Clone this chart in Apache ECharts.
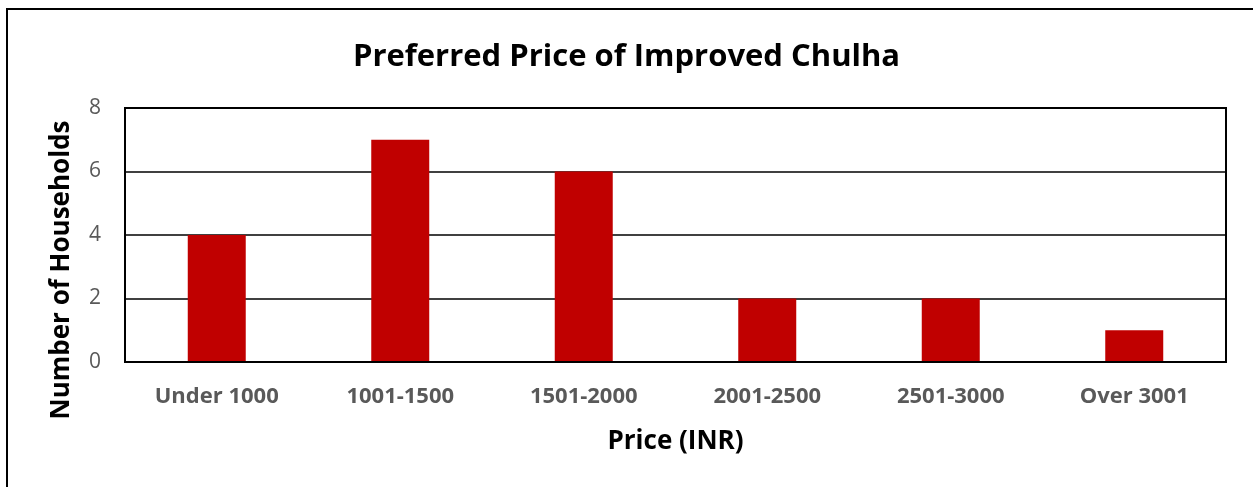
<!DOCTYPE html>
<html><head><meta charset="utf-8">
<script src="https://cdn.jsdelivr.net/npm/echarts@6/dist/echarts.min.js"></script>
<style>html,body{margin:0;padding:0;background:#fff}#c{width:1253px;height:487px}</style>
</head><body><div id="c"></div>
<script>
const categories = ["Under 1000", "1001-1500", "1501-2000", "2001-2500", "2501-3000", "Over 3001"];
const households = [4, 7, 6, 2, 2, 1];
const yTicks = [0, 2, 4, 6, 8];
const yTitle = 'Number of Households';

const chart = echarts.init(document.getElementById('c'), null, {renderer: 'canvas'});
const FONT = 'Open Sans';
chart.setOption({
  animation: false,
  backgroundColor: '#fff',
  title: {
    text: 'Preferred Price of Improved Chulha',
    left: 'center', top: 37,
    textStyle: {fontFamily: FONT, fontWeight: 'bold', fontSize: 31, color: '#000'}
  },
  graphic: [{
    type: 'rect', shape: {x: 7, y: 9, width: 1260, height: 500},
    style: {fill: 'none', stroke: '#000', lineWidth: 2}, z: 100
  }, {
    type: 'rect', shape: {x: 125, y: 108, width: 1101, height: 254},
    style: {fill: 'none', stroke: '#000', lineWidth: 2}, z: 100
  }, {
    type: 'text', x: 62, y: 270, rotation: Math.PI / 2,
    style: {text: yTitle, fontFamily: FONT, fontWeight: 'bold', fontSize: 26, fill: '#000',
            align: 'center', verticalAlign: 'middle'}
  }],
  grid: {left: 125, right: 27, top: 108, bottom: 125, containLabel: false},
  xAxis: {
    type: 'category', data: categories,
    name: 'Price (INR)', nameLocation: 'middle', nameGap: 67,
    nameTextStyle: {fontFamily: FONT, fontWeight: 'bold', fontSize: 26, color: '#000'},
    axisLine: {show: true, lineStyle: {color: '#000', width: 2}},
    axisTick: {show: false},
    axisLabel: {fontFamily: FONT, fontWeight: 'bold', fontSize: 22, color: '#595959', margin: 24}
  },
  yAxis: {
    type: 'value', min: yTicks[0], max: yTicks[yTicks.length - 1], interval: 2,
    axisLine: {show: false}, axisTick: {show: false},
    axisLabel: {fontFamily: FONT, fontSize: 21, color: '#595959', margin: 24},
    splitLine: {show: true, lineStyle: {color: '#000', width: 1.5}}
  },
  series: [{
    type: 'bar', data: households, barWidth: '31.6%',
    itemStyle: {color: '#C00000'}
  }]
});
</script></body></html>
